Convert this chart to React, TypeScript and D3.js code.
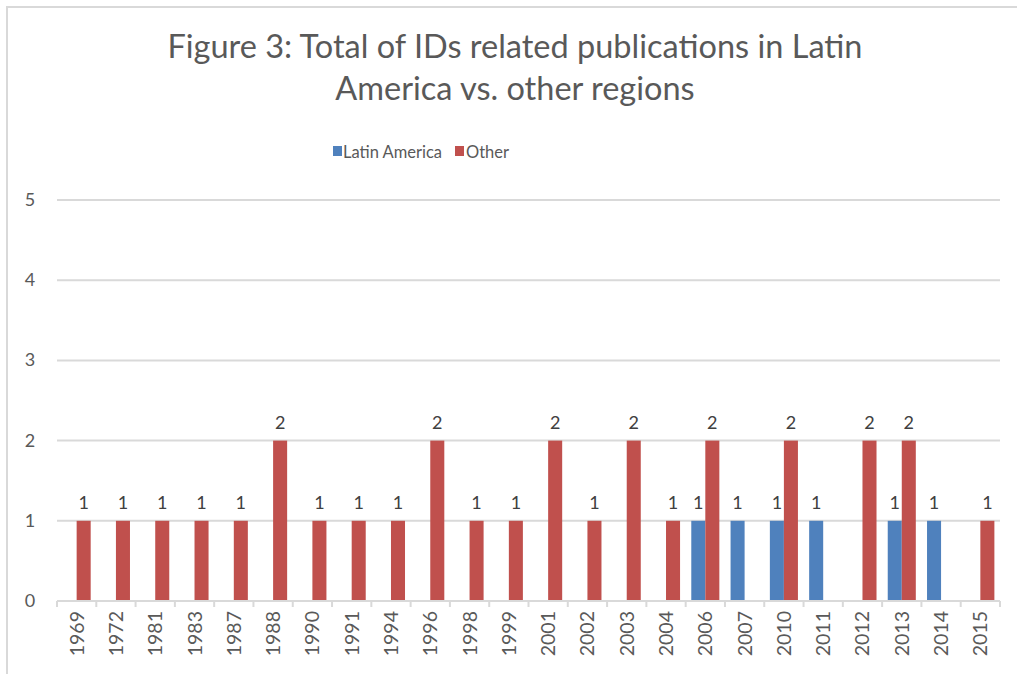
import React from "react";
import * as d3 from "d3";

const years = ["1969","1972","1981","1983","1987","1988","1990","1991","1994","1996","1998","1999","2001","2002","2003","2004","2006","2007","2010","2011","2012","2013","2014","2015"];
const latinAmerica = [0,0,0,0,0,0,0,0,0,0,0,0,0,0,0,0,1,1,1,1,0,1,1,0];
const other = [1,1,1,1,1,2,1,1,1,2,1,1,2,1,2,1,2,0,2,0,2,2,0,1];
const seriesNames = ["Latin America", "Other"];
const seriesColors = ["#4F81BD", "#C0504D"];
const yTicks = [0,1,2,3,4,5];
const titleLines = ["Figure 3: Total of IDs related publications in Latin", "America vs. other regions"];

const W = 1017, H = 674;
const font = "Lato, 'Open Sans', sans-serif";

export default function App() {
  const x = d3.scaleBand<string>().domain(years).range([57, 1000]).paddingInner(0).paddingOuter(0);
  const y = d3.scaleLinear().domain([0, 5]).range([601, 200]);
  const inner = d3.scaleBand<string>().domain(seriesNames).range([0, x.bandwidth()]).paddingInner(0).paddingOuter(0.4);
  const series = [latinAmerica, other];

  return (
    <svg width={W} height={H} style={{ position: "absolute", left: 0, top: 0, background: "#fff" }}>
      <rect x={0} y={0} width={W} height={H} fill="#fff" />
      <path d={`M7,${H} V7 H${W}`} fill="none" stroke="#d9d9d9" strokeWidth={2} />
      {titleLines.map((t, i) => (
        <text key={i} x={515} y={58 + i * 42} textAnchor="middle" fontFamily={font} fontSize={32.5} fill="#595959">{t}</text>
      ))}
      {/* legend */}
      <g fontFamily={font} fontSize={16.5} fill="#595959">
        <rect x={333} y={146} width={9} height={10} fill={seriesColors[0]} />
        <text x={343} y={158}>{seriesNames[0]}</text>
        <rect x={455} y={146} width={9} height={10} fill={seriesColors[1]} />
        <text x={466} y={158}>{seriesNames[1]}</text>
      </g>
      {/* gridlines */}
      {yTicks.map(t => (
        <g key={t}>
          <line x1={57} x2={1000} y1={y(t)} y2={y(t)} stroke="#d9d9d9" strokeWidth={2} />
          <text x={30} y={y(t) + 6} textAnchor="middle" fontFamily={font} fontSize={18} fill="#595959">{t}</text>
        </g>
      ))}
      {/* category ticks */}
      {years.map((yr) => (
        <line key={yr} x1={x(yr)!} x2={x(yr)!} y1={601} y2={607} stroke="#d9d9d9" strokeWidth={2} />
      ))}
      <line x1={1000} x2={1000} y1={601} y2={607} stroke="#d9d9d9" strokeWidth={2} />
      {/* bars */}
      {years.map((yr, i) => (
        <g key={yr}>
          {series.map((s, j) => s[i] > 0 ? (
            <g key={j}>
              <rect x={x(yr)! + inner(seriesNames[j])!} y={y(s[i])} width={inner.bandwidth()} height={601 - y(s[i])} fill={seriesColors[j]} />
              <text x={x(yr)! + inner(seriesNames[j])! + inner.bandwidth() / 2} y={y(s[i]) - 12} textAnchor="middle" fontFamily={font} fontSize={18} fill="#404040">{s[i]}</text>
            </g>
          ) : null)}
          <text transform={`translate(${x(yr)! + x.bandwidth() / 2 + 7},611) rotate(-90)`} textAnchor="end" fontFamily={font} fontSize={19.5} fill="#595959">{yr}</text>
        </g>
      ))}
      <line x1={57} x2={1000} y1={601} y2={601} stroke="#d9d9d9" strokeWidth={2} />
    </svg>
  );
}
